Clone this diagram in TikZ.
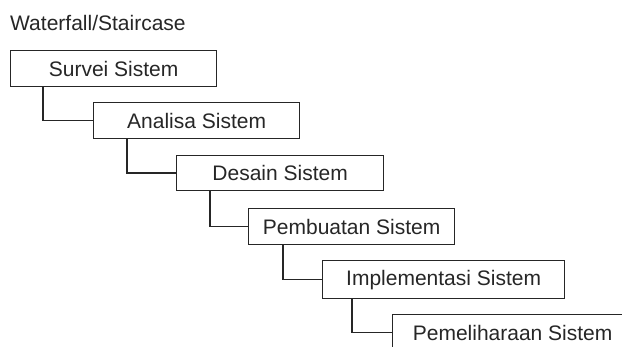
\documentclass[tikz,border=0pt]{standalone}
\usepackage{fontspec}
\setmainfont{Liberation Sans}
\usetikzlibrary{calc}
\begin{document}
\begin{tikzpicture}[x=1pt,y=-1pt,
  stage/.style={draw=black!85,line width=1.3pt,anchor=north west,minimum height=36pt,inner sep=0pt,
    font=\fontsize{21}{25}\selectfont,text=black!85},
  link/.style={draw=black!85,line width=1.3pt}]
\useasboundingbox (0,0) rectangle (622,347);
\clip (0,0) rectangle (622,347);
\node[anchor=base west,inner sep=0pt,font=\fontsize{21}{25}\selectfont,text=black!85] (title) at (10,31) {Waterfall/Staircase};
\node[stage,minimum width=206pt] (b1) at (10,50) {Survei Sistem};
\node[stage,minimum width=206pt] (b2) at (93,102) {Analisa Sistem};
\node[stage,minimum width=207pt,minimum height=35pt] (b3) at (176,155) {Desain Sistem};
\node[stage,minimum width=206pt] (b4) at (248,208) {Pembuatan Sistem};
\node[stage,minimum width=242pt,minimum height=38pt] (b5) at (322,260) {Implementasi Sistem};
\node[stage,minimum width=240pt] (b6) at (392,314) {Pemeliharaan Sistem};
\draw[link] ($(b1.south west)+(33,0)$) |- (b2.west);
\draw[link] ($(b2.south west)+(34,0)$) |- (b3.west);
\draw[link] ($(b3.south west)+(34,0)$) |- (b4.west);
\draw[link] ($(b4.south west)+(35,0)$) |- (b5.west);
\draw[link] ($(b5.south west)+(30,0)$) |- (b6.west);
\end{tikzpicture}
\end{document}
